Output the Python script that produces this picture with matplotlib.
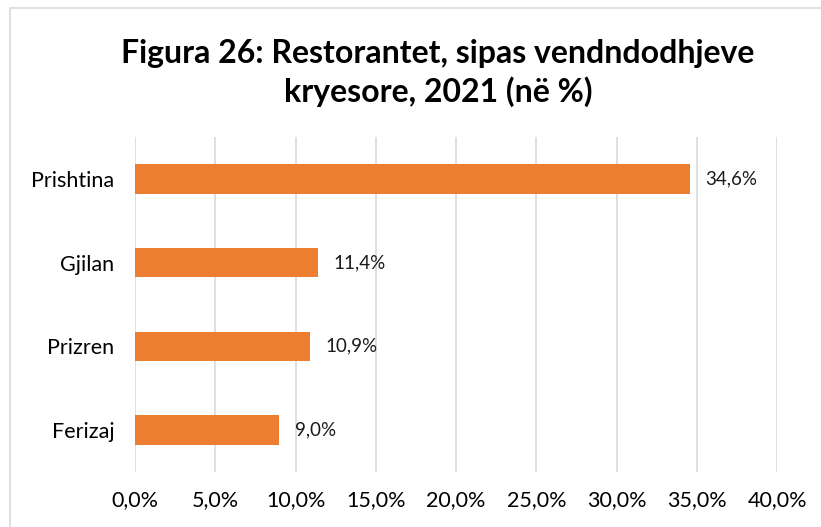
import matplotlib
matplotlib.use("Agg")
import matplotlib.pyplot as plt
from matplotlib.patches import Rectangle
from matplotlib.ticker import FuncFormatter

categories = ["Prishtina", "Gjilan", "Prizren", "Ferizaj"]
values = [34.6, 11.4, 10.9, 9.0]
xticks = [0, 5, 10, 15, 20, 25, 30, 35, 40]
title = "Figura 26: Restorantet, sipas vendndodhjeve\nkryesore, 2021 (në %)"

plt.rcParams['font.family'] = ['Lato', 'DejaVu Sans']

fig = plt.figure(figsize=(8.21, 5.27), dpi=100)
ax = fig.add_axes([135/821, 1-472/527, (777-135)/821, (472-137)/527])

ypos = list(range(len(categories)))[::-1]
ax.barh(ypos, values, height=0.35, color="#ED7D31", zorder=3)
for y, v in zip(ypos, values):
    ax.annotate(f"{v:.1f}%".replace(".", ","), (v, y), xytext=(11, 0),
                textcoords="offset points", va="center", ha="left",
                fontsize=13.5, color="#1a1a1a")

ax.set_xlim(0, 40)
ax.set_ylim(-0.5, len(categories)-0.5)
ax.set_xticks(xticks)
ax.xaxis.set_major_formatter(FuncFormatter(lambda x, p: f"{x:.1f}%".replace(".", ",")))
ax.set_yticks(ypos)
ax.set_yticklabels(categories)
ax.tick_params(axis="both", length=0, labelsize=15.5, colors="#000000")
ax.tick_params(axis="x", pad=13)
ax.tick_params(axis="y", pad=15)
ax.grid(axis="x", color="#D9D9D9", linewidth=1.2, zorder=0)
for s in ax.spines.values():
    s.set_visible(False)

fig.text(438/821, 1-73/527, title, ha="center", va="center", fontsize=23,
         fontweight="bold", linespacing=1.33)

fig.add_artist(Rectangle((10/821, -0.05), 1.2, 1-8/527+0.05, transform=fig.transFigure,
                         fill=False, edgecolor="#D9D9D9", linewidth=1.2))

fig.savefig("out.png", dpi=100)
